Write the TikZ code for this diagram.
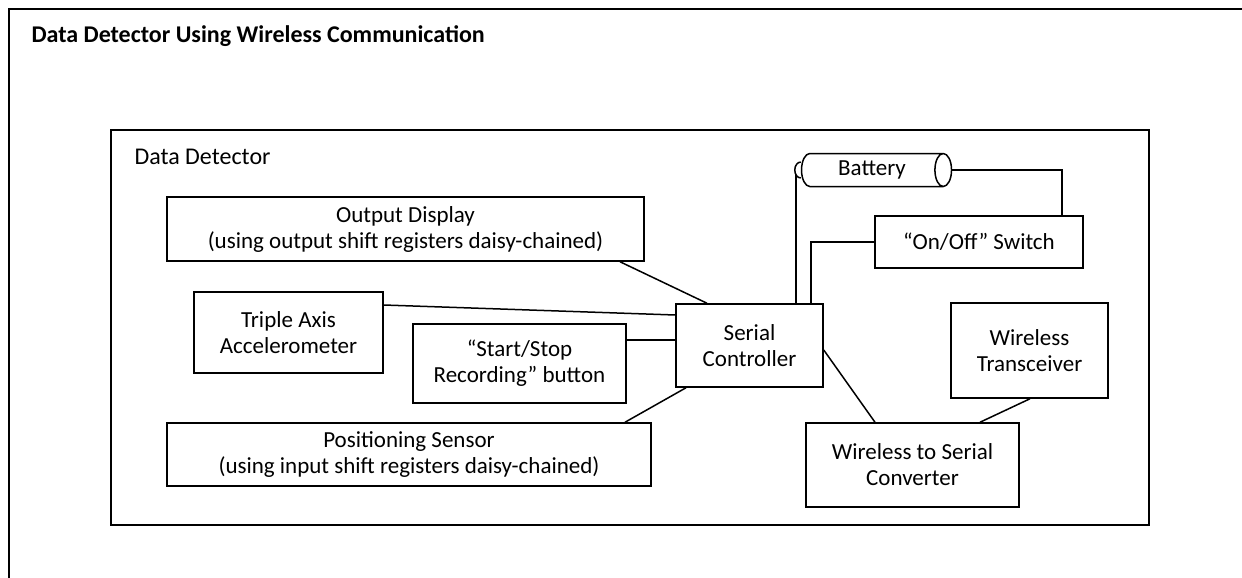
\documentclass[tikz,border=0pt]{standalone}
\usepackage{fontspec}
\setmainfont{Carlito}
\usetikzlibrary{shapes.geometric}
\begin{document}
\begin{tikzpicture}[x=1pt,y=-1pt,
  every node/.style={font=\fontsize{23}{26}\selectfont},
  blk/.style={draw, line width=1.5pt, inner sep=0pt, align=center},
  wire/.style={line width=1.5pt},
  frame/.style={line width=1.8pt}]
\useasboundingbox (0,0) rectangle (1242,578);

% outer and inner frames
\draw[frame] (9,578) -- (9,9) -- (1242,9);
\node[anchor=west, font=\fontsize{24}{28}\selectfont\bfseries] (title) at (28,36) {Data Detector Using Wireless Communication};
\node[draw, line width=1.5pt, minimum width=1038pt, minimum height=395pt, inner sep=0pt] (dd) at (630,327.5) {};
\node[anchor=west, font=\fontsize{24}{28}\selectfont] (ddlabel) at (131,157) {Data Detector};

% blocks
\node[blk, minimum width=477pt, minimum height=64pt] (od) at (405.5,229) {Output Display\\(using output shift registers daisy-chained)};
\node[blk, minimum width=189pt, minimum height=81pt] (tri) at (288.5,332.5) {Triple Axis\\Accelerometer};
\node[blk, minimum width=213pt, minimum height=79pt] (ss) at (519.5,363.5) {“Start/Stop\\Recording” button};
\node[blk, minimum width=484pt, minimum height=63pt] (pos) at (409,454.5) {Positioning Sensor\\(using input shift registers daisy-chained)};
\node[blk, minimum width=147pt, minimum height=83pt] (sc) at (749.5,345.5) {Serial\\Controller};
\node[blk, minimum width=157pt, minimum height=95pt] (wt) at (1029.5,350.5) {Wireless\\Transceiver};
\node[blk, minimum width=213pt, minimum height=84pt] (conv) at (912.5,465) {Wireless to Serial\\Converter};
\node[blk, minimum width=208pt, minimum height=52pt] (sw) at (979,242) {“On/Off” Switch};
\node[draw, line width=1.5pt, cylinder, shape border rotate=0, aspect=0.9,
      minimum width=33pt, minimum height=150pt, inner sep=0pt] (bat) at (872,170) {Battery};
% small terminal cap on the battery's back end
\draw[wire] ([yshift=8pt]bat.west) arc[start angle=90, end angle=270, x radius=6pt, y radius=8pt];

% connections
\draw[wire] ([xshift=214.5pt]od.south) -- ([xshift=-42.5pt]sc.north);
\draw[wire] ([yshift=27.5pt]tri.east) -- ([yshift=30.5pt]sc.west);
\draw[wire] ([yshift=23.5pt]ss.east) -- ([yshift=23.5pt]ss.east -| sc.west);
\draw[wire] ([xshift=216pt]pos.north) -- ([xshift=-63.5pt]sc.south);
\draw[wire] ([yshift=-4.5pt]sc.east) -- ([xshift=-37.5pt]conv.north);
\draw[wire] ([xshift=0.5pt]wt.south) -- ([xshift=67.5pt]conv.north);
\draw[wire] ([xshift=-5pt]bat.west |- sc.north) -- ([xshift=-5pt,yshift=-5pt]bat.west);
\draw[wire] ([xshift=61.5pt]sc.north) |- (sw.west);
\draw[wire] (bat.east) -| ([xshift=83pt]sw.north);
\end{tikzpicture}
\end{document}
